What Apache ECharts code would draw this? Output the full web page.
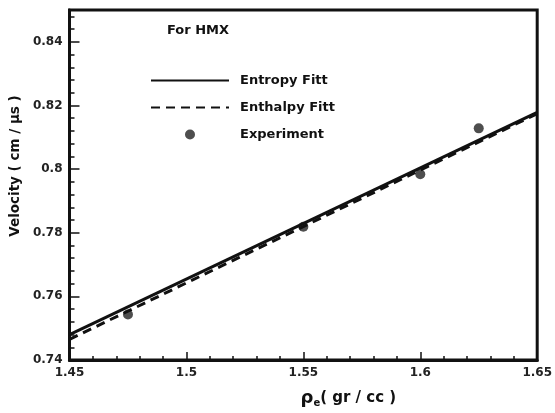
<!DOCTYPE html>
<html>
<head>
<meta charset="utf-8">
<script src="https://cdn.jsdelivr.net/npm/echarts@6/dist/echarts.min.js"></script>
<style>html,body{margin:0;padding:0;background:#fff}#c{width:555px;height:413px}</style>
</head>
<body>
<div id="c"></div>
<script>
var entropyX = [1.45, 1.65];
var entropyY = [0.748, 0.8178];
var enthalpyX = [1.45, 1.65];
var enthalpyY = [0.7465, 0.8174];
var expX = [1.475, 1.55, 1.6, 1.625];
var expY = [0.7543, 0.7819, 0.7984, 0.8128];
var seriesNames = ['Entropy Fitt', 'Enthalpy Fitt', 'Experiment'];
var title = 'For HMX';
var yName = 'Velocity ( cm / \u00b5s )';

function pairs(xs, ys){ return xs.map(function(x,i){ return [x, ys[i]]; }); }

var FONT = 'DejaVu Sans';
var hideSym = { color: 'rgba(0,0,0,0)', borderWidth: 0, opacity: 0 };
var chart = echarts.init(document.getElementById('c'));
chart.setOption({
  animation: false,
  backgroundColor: '#fff',
  grid: { left: 69, right: 15, top: 10, bottom: 50, show: true, borderColor: '#111', borderWidth: 3, backgroundColor: 'transparent' },
  title: { text: title, left: 167, top: 24, padding: 0, textStyle: { fontFamily: FONT, fontSize: 13, fontWeight: 'bold', color: '#111' } },
  legend: {
    orient: 'vertical', left: 150, top: 74, padding: 0, itemWidth: 78, itemHeight: 10, itemGap: 14,
    data: [
      { name: seriesNames[0], itemStyle: hideSym },
      { name: seriesNames[1], itemStyle: hideSym },
      { name: seriesNames[2] }
    ],
    textStyle: { fontFamily: FONT, fontSize: 13, fontWeight: 'bold', color: '#111', padding: [0,0,0,6] }
  },
  xAxis: {
    type: 'value', min: 1.45, max: 1.65, interval: 0.05,
    name: '{r|\u03c1}{s|e}{t|( gr / cc )}', nameLocation: 'middle', nameGap: 28,
    nameTextStyle: { padding: [0,0,0,90], rich: {
      r: { fontFamily: FONT, fontSize: 18, fontWeight: 'bold', color: '#111' },
      s: { fontFamily: FONT, fontSize: 10, fontWeight: 'bold', color: '#111', verticalAlign: 'bottom', padding: [10,0,0,0] },
      t: { fontFamily: FONT, fontSize: 15, fontWeight: 'bold', color: '#111' } } },
    axisLine: { show: true, lineStyle: { color: '#111', width: 3 } },
    axisTick: { show: true, inside: true, length: 8, lineStyle: { color: '#111', width: 1.5 } },
    minorTick: { show: true, splitNumber: 5, length: 4, lineStyle: { color: '#111', width: 1.5 } },
    splitLine: { show: false },
    axisLabel: { fontFamily: FONT, fontSize: 12, fontWeight: 'bold', color: '#222', margin: 7 }
  },
  yAxis: [{
    type: 'value', min: 0.74, max: 0.85, interval: 0.02,
    name: yName, nameLocation: 'middle', nameGap: 46, nameRotate: 90,
    nameTextStyle: { fontFamily: FONT, fontSize: 13.5, fontWeight: 'bold', color: '#111', padding: [0,0,0,38] },
    axisLine: { show: true, lineStyle: { color: '#111', width: 3 } },
    axisTick: { show: true, inside: true, length: 10, lineStyle: { color: '#111', width: 1.5 } },
    splitLine: { show: false },
    axisLabel: { fontFamily: FONT, fontSize: 12, fontWeight: 'bold', color: '#222', margin: 7, showMaxLabel: false }
  }, {
    type: 'value', min: 0.74, max: 0.85, interval: 0.004, position: 'left', offset: 0,
    axisLine: { show: false },
    axisTick: { show: true, inside: true, length: 5, lineStyle: { color: '#111', width: 1.5 } },
    splitLine: { show: false }, axisLabel: { show: false }
  }],
  series: [
    { name: seriesNames[0], type: 'line', data: pairs(entropyX, entropyY), symbol: 'none',
      lineStyle: { color: '#111', width: 3 }, itemStyle: { color: '#111' } },
    { name: seriesNames[1], type: 'line', data: pairs(enthalpyX, enthalpyY), symbol: 'none',
      lineStyle: { color: '#111', width: 3, type: [9, 6] }, itemStyle: { color: '#111' } },
    { name: seriesNames[2], type: 'scatter', data: pairs(expX, expY), symbolSize: 10,
      itemStyle: { color: '#222' } }
  ]
});
</script>
</body>
</html>
